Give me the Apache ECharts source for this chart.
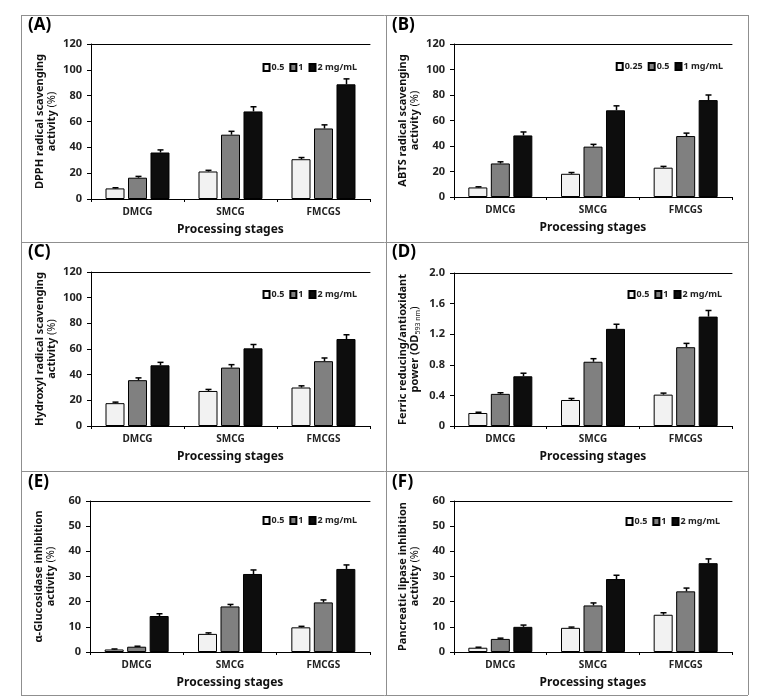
<!DOCTYPE html>
<html>
<head>
<meta charset="utf-8">
<script src="https://cdn.jsdelivr.net/npm/echarts@6/dist/echarts.min.js"></script>
<style>
html,body{margin:0;padding:0;background:#fff;}
#chart{width:771px;height:698px;}
</style>
</head>
<body>
<div id="chart"></div>
<script>
// ---------- data ----------
const categories = ['DMCG', 'SMCG', 'FMCGS'];
const xTitle = 'Processing stages';

// (A) DPPH radical scavenging activity (%)
const dpphNames = ['0.5', '1', '2 mg/mL'];
const dpph05 = [8.2, 21.3, 30.8];
const dpph1 = [16.5, 49.8, 54.6];
const dpph2 = [36.0, 67.8, 88.8];
const dpph05Err = [0.5, 0.9, 1.3];
const dpph1Err = [1.0, 2.6, 2.8];
const dpph2Err = [2.0, 3.6, 4.2];

// (B) ABTS radical scavenging activity (%)
const abtsNames = ['0.25', '0.5', '1 mg/mL'];
const abts025 = [7.5, 18.2, 23.0];
const abts05 = [26.3, 39.5, 47.8];
const abts1 = [48.3, 68.0, 76.0];
const abts025Err = [0.5, 1.0, 1.0];
const abts05Err = [1.3, 1.8, 2.3];
const abts1Err = [2.7, 3.5, 4.0];

// (C) Hydroxyl radical scavenging activity (%)
const hydNames = ['0.5', '1', '2 mg/mL'];
const hyd05 = [17.8, 27.3, 30.0];
const hyd1 = [35.7, 45.5, 50.5];
const hyd2 = [47.3, 60.5, 67.8];
const hyd05Err = [0.8, 1.2, 1.3];
const hyd1Err = [1.8, 2.3, 2.5];
const hyd2Err = [2.3, 3.0, 3.3];

// (D) Ferric reducing/antioxidant power (OD593 nm)
const frapNames = ['0.5', '1', '2 mg/mL'];
const frap05 = [0.17, 0.34, 0.41];
const frap1 = [0.42, 0.84, 1.03];
const frap2 = [0.65, 1.27, 1.43];
const frap05Err = [0.01, 0.02, 0.02];
const frap1Err = [0.015, 0.04, 0.05];
const frap2Err = [0.04, 0.06, 0.08];

// (E) alpha-Glucosidase inhibition activity (%)
const gluNames = ['0.5', '1', '2 mg/mL'];
const glu05 = [1.0, 7.2, 9.8];
const glu1 = [2.1, 18.1, 19.7];
const glu2 = [14.3, 31.0, 33.0];
const glu05Err = [0.2, 0.4, 0.4];
const glu1Err = [0.2, 0.8, 1.0];
const glu2Err = [0.9, 1.6, 1.6];

// (F) Pancreatic lipase inhibition activity (%)
const lipNames = ['0.5', '1', '2 mg/mL'];
const lip05 = [1.7, 9.6, 14.8];
const lip1 = [5.2, 18.5, 24.1];
const lip2 = [10.0, 29.0, 35.3];
const lip05Err = [0.2, 0.3, 0.8];
const lip1Err = [0.3, 1.0, 1.3];
const lip2Err = [0.7, 1.5, 1.7];

// axis ranges
const yMaxA = 120, yStepA = 20;
const yMaxD = 2.0, yStepD = 0.4;
const yMaxE = 60, yStepE = 10;

// ---------- layout / style ----------
const FONT = '"Noto Sans", "DejaVu Sans", sans-serif';
const barColors = ['#f2f2f2', '#808080', '#0d0d0d'];
const BAR_W = 19;
const BAR_STEP = 22.5;

const panels = [
  { key: 'A', grid: { left: 91, top: 44, width: 279, height: 155 },
    names: dpphNames, vals: [dpph05, dpph1, dpph2], errs: [dpph05Err, dpph1Err, dpph2Err],
    max: yMaxA, step: yStepA, yName: 'DPPH radical scavenging\nactivity {n|(%)}',
    legend: { right: 409, top: 58 }, label: { x: 28, y: 17 } },
  { key: 'B', grid: { left: 454, top: 44, width: 278, height: 153 },
    names: abtsNames, vals: [abts025, abts05, abts1], errs: [abts025Err, abts05Err, abts1Err],
    max: yMaxA, step: yStepA, yName: 'ABTS radical scavenging\nactivity {n|(%)}',
    legend: { right: 43, top: 57 }, label: { x: 392, y: 17 } },
  { key: 'C', grid: { left: 91, top: 272, width: 279, height: 154 },
    names: hydNames, vals: [hyd05, hyd1, hyd2], errs: [hyd05Err, hyd1Err, hyd2Err],
    max: yMaxA, step: yStepA, yName: 'Hydroxyl radical scavenging\nactivity {n|(%)}',
    legend: { right: 409, top: 285 }, label: { x: 28, y: 244 } },
  { key: 'D', grid: { left: 454, top: 273, width: 278, height: 153 },
    names: frapNames, vals: [frap05, frap1, frap2], errs: [frap05Err, frap1Err, frap2Err],
    max: yMaxD, step: yStepD, yName: 'Ferric reducing/antioxidant\npower (OD{sub|593 nm}{n|)}',
    legend: { right: 44, top: 285 }, label: { x: 392, y: 244 } },
  { key: 'E', grid: { left: 90, top: 501, width: 280, height: 151 },
    names: gluNames, vals: [glu05, glu1, glu2], errs: [glu05Err, glu1Err, glu2Err],
    max: yMaxE, step: yStepE, yName: '\u03b1-Glucosidase inhibition\nactivity {n|(%)}',
    legend: { right: 409, top: 511 }, label: { x: 28, y: 474 } },
  { key: 'F', grid: { left: 454, top: 501, width: 278, height: 151 },
    names: lipNames, vals: [lip05, lip1, lip2], errs: [lip05Err, lip1Err, lip2Err],
    max: yMaxE, step: yStepE, yName: 'Pancreatic lipase inhibition\nactivity {n|(%)}',
    legend: { right: 46, top: 512 }, label: { x: 392, y: 474 } }
];

const option = {
  animation: false,
  backgroundColor: '#ffffff',
  textStyle: { fontFamily: FONT },
  grid: [], xAxis: [], yAxis: [], series: [], legend: [], graphic: []
};

panels.forEach((p, i) => {
  option.grid.push(Object.assign({ containLabel: false }, p.grid));
  option.xAxis.push({
    gridIndex: i, type: 'category', data: categories, position: 'bottom',
    axisLine: { show: true, lineStyle: { color: '#000', width: 1 } },
    axisTick: { show: true, length: 3, inside: false, lineStyle: { color: '#000' } },
    axisLabel: { margin: 8, fontSize: 10, fontWeight: 'bold', color: '#222', fontFamily: FONT },
    name: xTitle, nameLocation: 'middle', nameGap: 25,
    nameTextStyle: { fontSize: 12, fontWeight: 'bold', color: '#111', fontFamily: FONT },
    splitLine: { show: false }
  });
  option.xAxis.push({
    gridIndex: i, type: 'category', data: categories, position: 'top',
    axisLine: { show: true, lineStyle: { color: '#000', width: 1 } },
    axisTick: { show: false }, axisLabel: { show: false }, splitLine: { show: false }
  });
  option.yAxis.push({
    gridIndex: i, type: 'value', min: 0, max: p.max, interval: p.step,
    axisLine: { show: true, lineStyle: { color: '#000', width: 1 } },
    axisTick: { show: true, length: 4, inside: false, lineStyle: { color: '#000' } },
    axisLabel: {
      margin: 9, fontSize: 11, fontWeight: 'bold', color: '#222', fontFamily: FONT,
      formatter: v => (p.step < 1 ? (v === 0 ? '0' : v.toFixed(1)) : String(v))
    },
    splitLine: { show: false },
    name: p.yName, nameLocation: 'middle', nameRotate: 90, nameGap: 33,
    nameTextStyle: {
      fontSize: 11, fontWeight: 'bold', color: '#111', fontFamily: FONT, lineHeight: 12,
      rich: {
        n: { fontSize: 11, fontWeight: 'normal', color: '#111', fontFamily: FONT, lineHeight: 12 },
        sub: { fontSize: 7, fontWeight: 'normal', color: '#111', fontFamily: FONT, verticalAlign: 'bottom', lineHeight: 12, padding: [4, 0, 0, 0] }
      }
    }
  });
  p.names.forEach((n, s) => {
    option.series.push({
      name: p.key + '|' + n, type: 'bar', xAxisIndex: 2 * i, yAxisIndex: i,
      data: p.vals[s], barWidth: BAR_W, barGap: ((BAR_STEP - BAR_W) / BAR_W * 100).toFixed(1) + '%',
      itemStyle: { color: barColors[s], borderColor: '#000', borderWidth: 1 },
      emphasis: { disabled: true }, z: 2
    });
  });
  p.names.forEach((n, s) => {
    const offset = (s - 1) * BAR_STEP;
    option.series.push({
      type: 'custom', xAxisIndex: 2 * i, yAxisIndex: i, z: 4,
      data: categories.map((c, j) => [j, p.vals[s][j], p.errs[s][j]]),
      encode: { x: 0, y: 1 },
      renderItem: (params, api) => {
        const ci = api.value(0), v = api.value(1), e = api.value(2);
        const b = api.coord([ci, v]);
        const t = api.coord([ci, v + e]);
        const x = Math.round(b[0] + offset) + 0.5;
        return {
          type: 'group',
          children: [
            { type: 'line', shape: { x1: x, y1: b[1], x2: x, y2: t[1] }, style: { stroke: '#000', lineWidth: 1.5 } },
            { type: 'line', shape: { x1: x - 3, y1: t[1], x2: x + 3, y2: t[1] }, style: { stroke: '#000', lineWidth: 1.5 } }
          ]
        };
      }
    });
  });
  option.legend.push({
    data: p.names.map(n => p.key + '|' + n),
    formatter: n => n.split('|')[1],
    right: p.legend.right, top: p.legend.top, orient: 'horizontal',
    icon: 'rect', itemWidth: 6, itemHeight: 7, itemGap: 5, selectedMode: false,
    textStyle: { fontSize: 9, fontWeight: 'bold', color: '#222', fontFamily: FONT, padding: [0, 0, 0, -3] }
  });
  option.graphic.push({
    type: 'text', left: p.label.x, top: p.label.y,
    style: { text: '(' + p.key + ')', font: 'bold 17px ' + FONT, fill: '#000' }
  });
});

// panel frame lines
const frameColor = '#8f8f8f';
const vx = [21, 386, 748];
const hy = [15, 242, 471, 695];
vx.forEach(x => option.graphic.push({ type: 'line', shape: { x1: x + 0.5, y1: hy[0], x2: x + 0.5, y2: hy[3] }, style: { stroke: frameColor, lineWidth: 1 } }));
hy.forEach(y => option.graphic.push({ type: 'line', shape: { x1: vx[0], y1: y + 0.5, x2: vx[2], y2: y + 0.5 }, style: { stroke: frameColor, lineWidth: 1 } }));

const chart = echarts.init(document.getElementById('chart'), null, { renderer: 'canvas' });
chart.setOption(option);
</script>
</body>
</html>
